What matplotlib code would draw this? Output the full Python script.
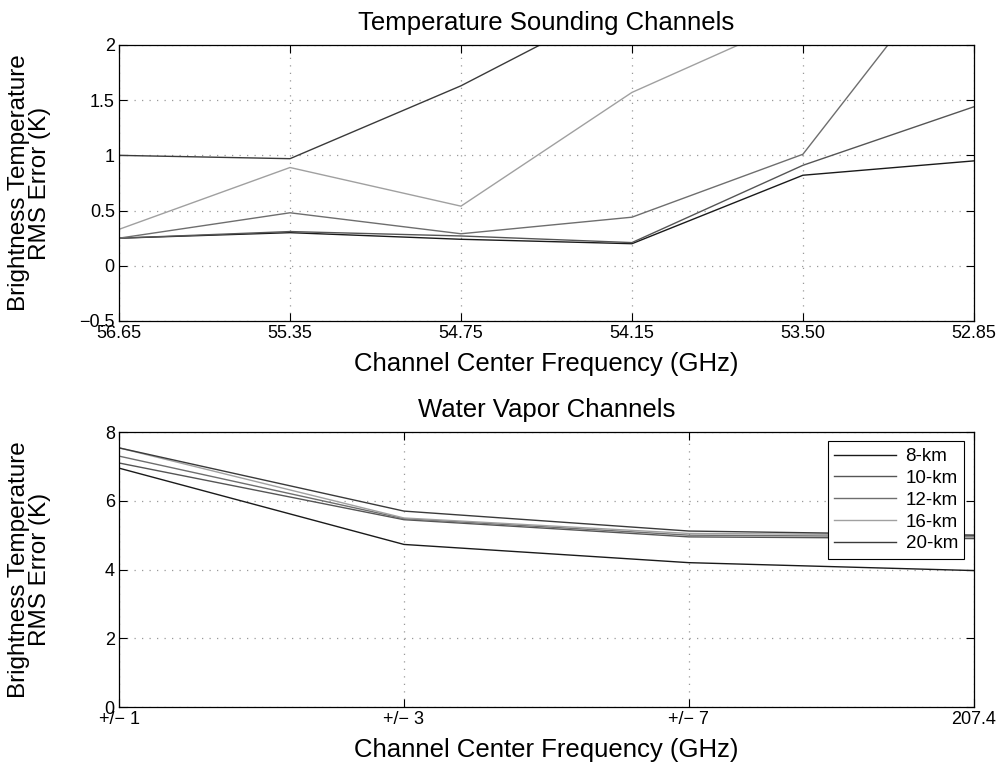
import matplotlib
matplotlib.use("Agg")
import matplotlib.pyplot as plt

plt.rcParams['font.family'] = ['Liberation Sans', 'DejaVu Sans']

# Top panel data
temp_freqs = ["56.65", "55.35", "54.75", "54.15", "53.50", "52.85"]
t_8km = [0.25, 0.30, 0.24, 0.20, 0.82, 0.95]
t_10km = [0.25, 0.31, 0.27, 0.21, 0.91, 1.44]
t_12km = [0.25, 0.48, 0.29, 0.44, 1.01, 3.00]
t_16km = [0.33, 0.89, 0.54, 1.57, 2.26, 3.00]
t_20km = [1.00, 0.97, 1.63, 2.43, 3.00, 3.50]

# Bottom panel data
wv_freqs = ["+/\u2212 1", "+/\u2212 3", "+/\u2212 7", "207.4"]
w_8km = [6.95, 4.73, 4.20, 3.97]
w_10km = [7.10, 5.45, 4.95, 4.90]
w_12km = [7.30, 5.48, 5.00, 4.95]
w_16km = [7.54, 5.50, 5.05, 5.00]
w_20km = [7.54, 5.70, 5.12, 5.00]

labels = ["8-km", "10-km", "12-km", "16-km", "20-km"]
colors = ["#1a1a1a", "#555555", "#6e6e6e", "#a0a0a0", "#3a3a3a"]

fig = plt.figure(figsize=(10.01, 7.67), dpi=100)
ax1 = fig.add_axes([0.1189, 0.5815, 0.854, 0.3599])
ax2 = fig.add_axes([0.1189, 0.0782, 0.854, 0.3585])

def style(ax):
    ax.tick_params(direction='in', top=True, right=True, length=6, width=0.8, labelsize=13, pad=3)
    ax.grid(True, linestyle=(0, (1, 5)), color='#999999', linewidth=0.9)
    for s in ax.spines.values():
        s.set_linewidth(0.9)
    ax.yaxis.set_label_coords(-0.08, 0.5)

x1 = list(range(len(temp_freqs)))
for ys, c, l in zip([t_8km, t_10km, t_12km, t_16km, t_20km], colors, labels):
    ax1.plot(x1, ys, color=c, lw=1.0, label=l)
ax1.set_xlim(0, len(temp_freqs) - 1)
ax1.set_ylim(-0.5, 2)
ax1.set_xticks(x1)
ax1.set_xticklabels(temp_freqs)
ax1.set_yticks([-0.5, 0, 0.5, 1, 1.5, 2])
ax1.set_yticklabels(["\u22120.5", "0", "0.5", "1", "1.5", "2"])
style(ax1)
ax1.set_title("Temperature Sounding Channels", fontsize=18.5, pad=11)
ax1.set_xlabel("Channel Center Frequency (GHz)", fontsize=18.5, labelpad=7)
ax1.set_ylabel("Brightness Temperature\nRMS Error (K)", fontsize=17.5, linespacing=0.92)

x2 = list(range(len(wv_freqs)))
for ys, c, l in zip([w_8km, w_10km, w_12km, w_16km, w_20km], colors, labels):
    ax2.plot(x2, ys, color=c, lw=1.0, label=l)
ax2.set_xlim(0, len(wv_freqs) - 1)
ax2.set_ylim(0, 8)
ax2.set_xticks(x2)
ax2.set_xticklabels(wv_freqs)
ax2.set_yticks([0, 2, 4, 6, 8])
style(ax2)
ax2.set_title("Water Vapor Channels", fontsize=18.5, pad=11)
ax2.set_xlabel("Channel Center Frequency (GHz)", fontsize=18.5, labelpad=7)
ax2.set_ylabel("Brightness Temperature\nRMS Error (K)", fontsize=17.5, linespacing=0.92)
leg = ax2.legend(loc='upper right', fontsize=13.5, fancybox=False, edgecolor='black',
                 framealpha=1, handlelength=3.3, borderpad=0.35, labelspacing=0.25,
                 handletextpad=0.5, borderaxespad=0.5)
leg.get_frame().set_linewidth(0.8)

fig.savefig("out.png", dpi=100)
